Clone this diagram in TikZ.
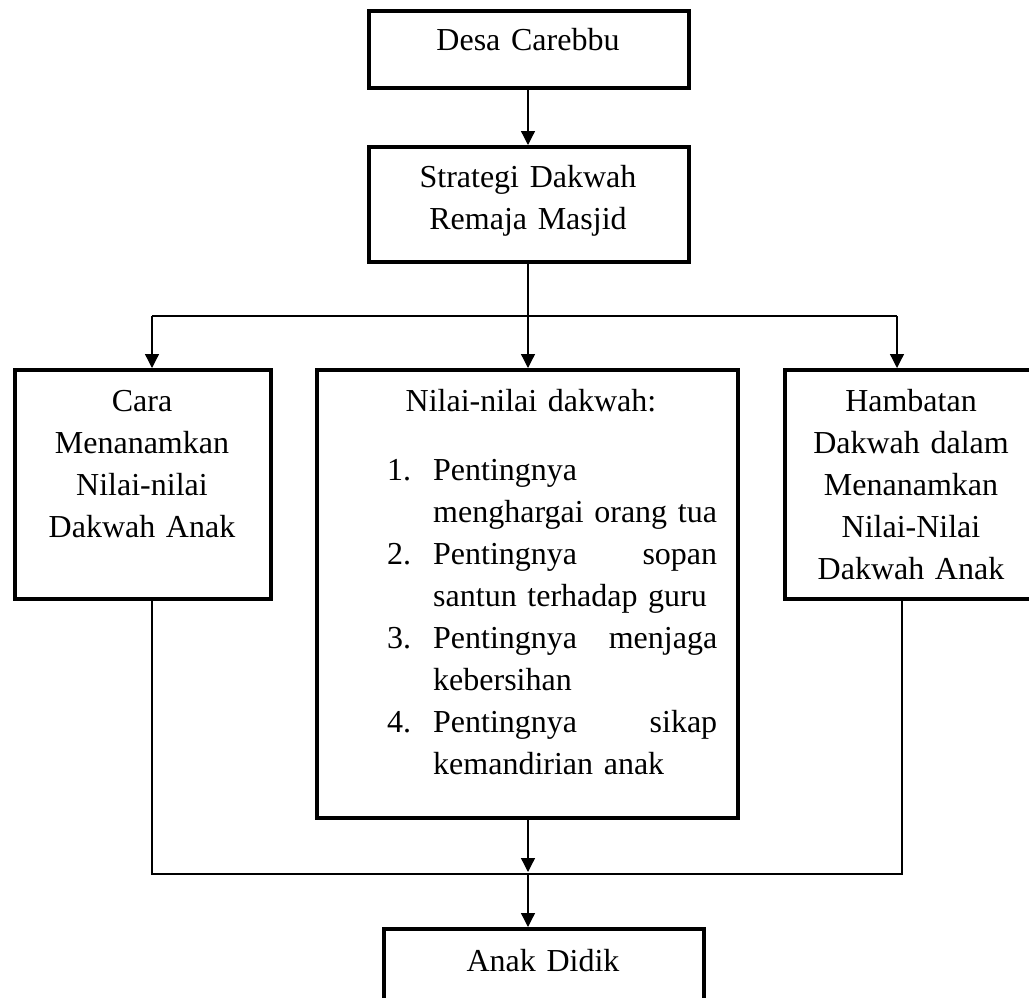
\documentclass[tikz,border=0pt]{standalone}
\usepackage{fontspec}
\setmainfont{Liberation Serif}
\usetikzlibrary{arrows.meta}
\tikzset{
  box/.style={draw, line width=4pt, rectangle, inner sep=0pt},
  txt/.style={font=\fontsize{32}{42}\selectfont, inner sep=0pt, align=center, text width=#1},
  txt/.default=300pt,
  conn/.style={line width=1.3pt},
  arr/.style={conn, -{Triangle[width=14pt,length=14pt]}}
}
\begin{document}
\begin{tikzpicture}[x=1pt,y=-1pt]
\useasboundingbox (0,0) rectangle (1029,998);
\clip (0,0) rectangle (1029,998);
% boxes
\node[box, minimum width=320pt, minimum height=77pt] (desa) at (529,49.5) {};
\node[box, minimum width=320pt, minimum height=115pt] (strategi) at (529,204.5) {};
\node[box, minimum width=256pt, minimum height=229pt] (cara) at (143,484.5) {};
\node[box, minimum width=421pt, minimum height=448pt] (nilai) at (527.5,594) {};
\node[box, minimum width=255pt, minimum height=229pt] (hambatan) at (912.5,484.5) {};
\node[box, minimum width=320pt, minimum height=131pt] (anak) at (544,994.5) {};
% texts
\node[txt, anchor=base] (desatxt) at (528,51) {Desa Carebbu};
\node[txt, anchor=base] (strattxt) at (528,187) {Strategi Dakwah\\Remaja Masjid};
\node[txt=250pt, anchor=base] (caratxt) at (142,411) {Cara\\Menanamkan\\Nilai-nilai\\Dakwah Anak};
\node[txt=250pt, anchor=base] (hambtxt) at (911,411) {Hambatan\\Dakwah dalam\\Menanamkan\\Nilai-Nilai\\Dakwah Anak};
\node[txt=400pt, anchor=base] (nilaitxt) at (531,411) {Nilai-nilai dakwah:};
\node[txt=330pt, align=left, anchor=base west] (listtxt) at (387,480) {%
\makebox[46pt][l]{1.}Pentingnya\\
\hspace*{46pt}menghargai orang tua\\
\makebox[46pt][l]{2.}Pentingnya\hfill sopan\\
\hspace*{46pt}santun terhadap guru\\
\makebox[46pt][l]{3.}Pentingnya\hfill menjaga\\
\hspace*{46pt}kebersihan\\
\makebox[46pt][l]{4.}Pentingnya\hfill sikap\\
\hspace*{46pt}kemandirian anak};
\node[txt, anchor=base] (anaktxt) at (543,971) {Anak Didik};
% connector coordinates
\coordinate (split) at (528,316);
\coordinate (bl) at (152,316);
\coordinate (br) at (897,316);
\coordinate (jl) at (152,874);
\coordinate (jm) at (528,874);
\coordinate (jr) at (902,874);
% connectors
\draw[arr] (desa.south -| split) -- (strategi.north -| split);
\draw[conn] (strategi.south -| split) -- (split);
\draw[conn] (bl) -- (br);
\draw[arr] (bl) -- (bl |- cara.north);
\draw[arr] (split) -- (split |- nilai.north);
\draw[arr] (br) -- (br |- hambatan.north);
\draw[conn] (jl |- cara.south) -- (jl) -- (jr) -- (jr |- hambatan.south);
\draw[arr] (jm |- nilai.south) -- ([yshift=2pt]jm);
\draw[arr] (jm) -- (jm |- anak.north);
\end{tikzpicture}
\end{document}
